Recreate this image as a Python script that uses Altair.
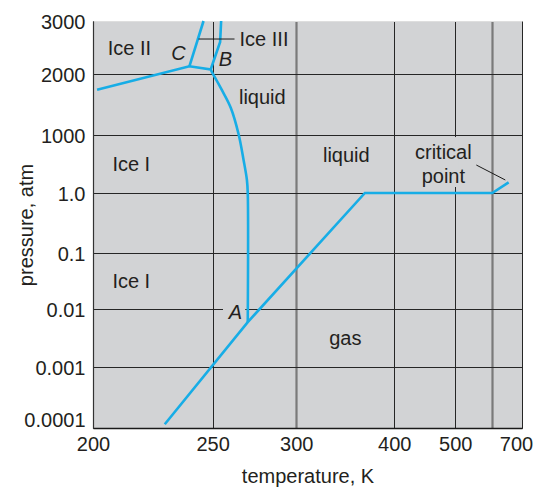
import altair as alt
import pandas as pd

# ---- axes (schematic, non-uniform) ----
X_TICKS = [200, 250, 300, 400, 500, 600, 700]
X_TICK_LABELS = ["200", "250", "300", "400", "500", "", "700"]
X_RANGE = [0, 119.6, 203.3, 301.3, 362.3, 399.3, 429]

Y_TICKS = [0.0001, 0.001, 0.01, 0.1, 1, 1000, 2000, 3000]
Y_TICK_LABELS = ["0.0001", "0.001", "0.01", "0.1", "1.0", "1000", "2000", "3000"]
Y_RANGE = [407.3, 346, 288.3, 232, 172, 114, 53, 0]

# ---- phase boundaries (temperature K, pressure atm) ----
vapor_T = [230, 271, 370, 600, 655]
vapor_P = [0.00016, 0.008, 1, 1, 185]
melt_T = [271, 271, 270.5, 268.5, 265.5, 260.9, 255.5, 250]
melt_P = [0.008, 1, 225, 570, 1016, 1443, 1738, 2010]
ice12_T = [201.7, 240.3, 249.2, 250]
ice12_P = [1740, 2145, 2085, 2010]
ice23_T = [240.3, 246.2]
ice23_P = [2145, 3000]
ice3liq_T = [249.2, 254.5, 255.1]
ice3liq_P = [2085, 2605, 3000]

# ---- leader lines ----
lead_ice3_T = [244.1, 263.1]
lead_ice3_P = [2660, 2660]
lead_crit_T = [556.8, 643.8]
lead_crit_P = [483, 225]

# ---- region labels ----
label_text = ["Ice II", "Ice I", "Ice I", "liquid", "liquid", "critical", "point", "gas"]
label_T = [215.2, 216, 216, 279.7, 351, 480.4, 480.4, 350]
label_P = [2472, 483, 0.0536, 1607, 638, 690, 276, 0.00537]

point_text = ["C", "B", "A"]
point_T = [235.7, 257.6, 263.6]
point_P = [2377, 2264, 0.0094]

ice3_text = ["Ice III"]
ice3_T = [266.1]
ice3_P = [2641]

# gaps in gridlines behind labels
mask_T1 = [256.2, 495]
mask_T2 = [269.5, 508]
mask_P1 = [0.00864, 104]
mask_P2 = [0.0249, 965]

BG = "#d2d3d5"
BLUE = "#17ade6"
INK = "#231f20"
FONT = "Liberation Sans"

def lbl_expr(vals, labels):
    expr = "''"
    for v, l in zip(vals, labels):
        expr = f"datum.value == {v} ? '{l}' : ({expr})"
    return expr

xscale = alt.Scale(domain=X_TICKS, range=X_RANGE, zero=False, nice=False)
yscale = alt.Scale(domain=Y_TICKS, range=Y_RANGE, zero=False, nice=False)

xaxis = alt.Axis(
    values=X_TICKS, labelExpr=lbl_expr(X_TICKS, X_TICK_LABELS),
    grid=True,
    gridColor={"condition": {"test": "datum.value == 300 || datum.value == 600", "value": "#7a7a7a"}, "value": "#262626"},
    gridWidth={"condition": {"test": "datum.value == 300 || datum.value == 600", "value": 2.2}, "value": 1},
    ticks=False, domainColor="#1a1a1a", domainWidth=1.5,
    labelFont=FONT, labelFontSize=20, labelColor=INK, labelPadding=6,
    labelFlush=False, labelOverlap=False,
    labelOffset={"condition": {"test": "datum.value == 700", "value": -6}, "value": 0},
    title="temperature, K", titleFont=FONT, titleFontSize=20, titleFontWeight="normal",
    titleColor=INK, titleX=214.5, titleY=54, titleBaseline="alphabetic", titleAlign="center",
)
yaxis = alt.Axis(
    values=Y_TICKS, labelExpr=lbl_expr(Y_TICKS, Y_TICK_LABELS),
    grid=True,
    gridColor={"condition": {"test": "datum.value == 3000", "value": "#dedede"}, "value": "#262626"},
    ticks=False, domainColor="#333333", domainWidth=1.2,
    labelFont=FONT, labelFontSize=20, labelColor=INK, labelPadding=8,
    labelFlush=False, labelOverlap=False, labelBaseline="middle",
    labelOffset={"condition": {"test": "datum.value < 0.0005", "value": -8}, "value": 1},
    title="pressure, atm", titleFont=FONT, titleFontSize=20, titleFontWeight="normal",
    titleColor=INK, titleAngle=-90, titleX=-61, titleY=203.5,
    titleBaseline="alphabetic", titleAlign="center",
)

# ---- data frames ----
def seg_frame(segs):
    rows = []
    for name, T, P in segs:
        for i, (t, p) in enumerate(zip(T, P)):
            rows.append({"seg": name, "ord": i, "T": t, "P": p})
    return pd.DataFrame(rows)

straight_df = seg_frame([("vapor", vapor_T, vapor_P), ("ice12", ice12_T, ice12_P),
                         ("ice23", ice23_T, ice23_P), ("ice3liq", ice3liq_T, ice3liq_P)])
melt_df = seg_frame([("melt", melt_T, melt_P)])
lead_df = seg_frame([("ice3", lead_ice3_T, lead_ice3_P), ("crit", lead_crit_T, lead_crit_P)])

mask_df = pd.DataFrame({"T1": mask_T1, "T2": mask_T2, "P1": mask_P1, "P2": mask_P2})
lab_df = pd.DataFrame({"text": label_text, "T": label_T, "P": label_P})
pt_df = pd.DataFrame({"text": point_text, "T": point_T, "P": point_P})
ice3_df = pd.DataFrame({"text": ice3_text, "T": ice3_T, "P": ice3_P})

X = alt.X("T:Q", scale=xscale, axis=xaxis)
Y = alt.Y("P:Q", scale=yscale, axis=yaxis)

masks = alt.Chart(mask_df).mark_rect(fill=BG).encode(
    x=alt.X("T1:Q", scale=xscale, axis=xaxis), x2="T2:Q",
    y=alt.Y("P1:Q", scale=yscale, axis=yaxis), y2="P2:Q",
)

lines = alt.Chart(straight_df).mark_line(color=BLUE, strokeWidth=2.6, strokeJoin="miter").encode(
    x=X, y=Y, detail="seg:N", order="ord:Q"
)

melt = alt.Chart(melt_df).mark_line(color=BLUE, strokeWidth=2.6, interpolate="catmull-rom").encode(
    x=X, y=Y, detail="seg:N", order="ord:Q"
)

leads = alt.Chart(lead_df).mark_line(color="#1a1a1a", strokeWidth=1).encode(
    x=X, y=Y, detail="seg:N", order="ord:Q"
)

labels = alt.Chart(lab_df).mark_text(
    font=FONT, fontSize=20, color=INK, align="center", baseline="middle"
).encode(x=X, y=Y, text="text:N")

points = alt.Chart(pt_df).mark_text(
    font=FONT, fontSize=20, color=INK, align="center", baseline="middle", fontStyle="italic"
).encode(x=X, y=Y, text="text:N")

ice3 = alt.Chart(ice3_df).mark_text(
    font=FONT, fontSize=20, color=INK, align="left", baseline="middle"
).encode(x=X, y=Y, text="text:N")

chart = alt.layer(masks, lines, melt, leads, labels, points, ice3).properties(
    width=429, height=407,
    autosize=alt.AutoSizeParams(type="none"),
    padding={"left": 85, "top": 13, "right": 12, "bottom": 59},
).configure_view(
    fill=BG, stroke="#cfcfcf", strokeWidth=1
)

chart.save("out.html", embed_options={"renderer": "svg", "actions": False})
